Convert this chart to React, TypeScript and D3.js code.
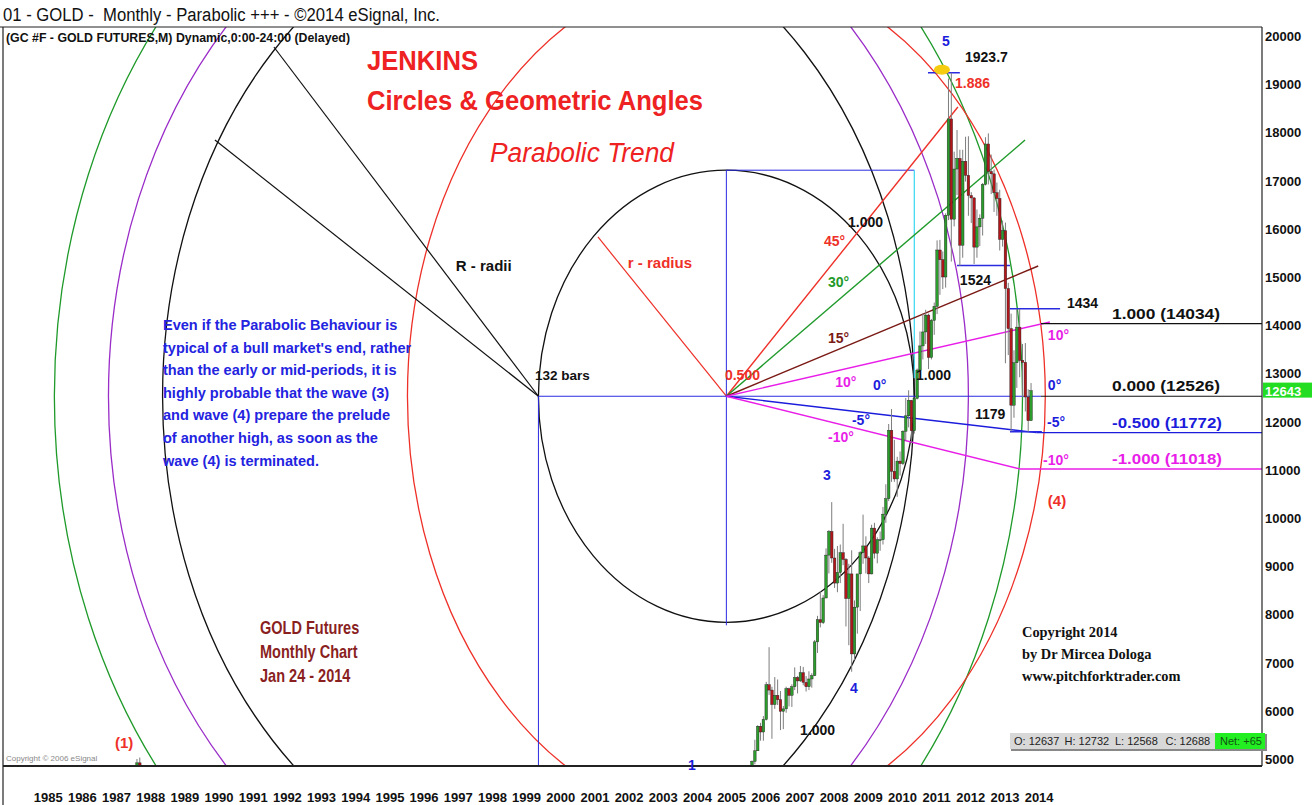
import React from "react";
import * as d3 from "d3";

const W = 1312;
const H = 805;
const PLOT = { left: 4, right: 1262, top: 27, bottom: 766 };
const NARROW = "'Liberation Sans Narrow','Arial Narrow','Liberation Sans',Arial,sans-serif";
const SERIF = "'Liberation Serif','Times New Roman',serif";

// ---- axis ticks ----
const yearTicks = [1985, 1986, 1987, 1988, 1989, 1990, 1991, 1992, 1993, 1994, 1995, 1996, 1997, 1998, 1999,
  2000, 2001, 2002, 2003, 2004, 2005, 2006, 2007, 2008, 2009, 2010, 2011, 2012, 2013, 2014];
const priceTicks = [5000, 6000, 7000, 8000, 9000, 10000, 11000, 12000, 13000, 14000, 15000, 16000, 17000, 18000, 19000, 20000];

// ---- monthly candles: [month, open, high, low, close] (price x10) ----
const candles: [string, number, number, number, number][] = [
  ["1987-11", 4670, 5000, 4640, 4920], ["1987-12", 4920, 5030, 4780, 4840],
  ["2005-09", 4330, 4760, 4320, 4730], ["2005-10", 4730, 4800, 4620, 4700], ["2005-11", 4700, 4970, 4570, 4950], ["2005-12", 4950, 5400, 4890, 5170],
  ["2006-01", 5170, 5700, 5170, 5680], ["2006-02", 5680, 5750, 5380, 5560], ["2006-03", 5560, 5890, 5380, 5820], ["2006-04", 5820, 6600, 5800, 6540],
  ["2006-05", 6540, 7320, 6330, 6430], ["2006-06", 6430, 6500, 5420, 6130], ["2006-07", 6130, 6700, 6040, 6320], ["2006-08", 6320, 6650, 6120, 6230],
  ["2006-09", 6230, 6410, 5600, 5990], ["2006-10", 5990, 6100, 5620, 6040], ["2006-11", 6040, 6500, 5960, 6460], ["2006-12", 6460, 6480, 6090, 6320],
  ["2007-01", 6320, 6550, 6080, 6500], ["2007-02", 6500, 6900, 6430, 6690], ["2007-03", 6690, 6720, 6360, 6620], ["2007-04", 6620, 6930, 6600, 6790],
  ["2007-05", 6790, 6910, 6530, 6590], ["2007-06", 6590, 6720, 6400, 6500], ["2007-07", 6500, 6820, 6430, 6660], ["2007-08", 6660, 6780, 6480, 6730],
  ["2007-09", 6730, 7470, 6720, 7430], ["2007-10", 7430, 7970, 7200, 7890], ["2007-11", 7890, 8480, 7730, 7830], ["2007-12", 7830, 8400, 7800, 8340],
  ["2008-01", 8340, 9370, 8340, 9230], ["2008-02", 9230, 9750, 8850, 9720], ["2008-03", 9720, 10330, 9070, 9170], ["2008-04", 9170, 9360, 8550, 8650],
  ["2008-05", 8650, 9420, 8460, 8870], ["2008-06", 8870, 9450, 8650, 9280], ["2008-07", 9280, 9880, 9020, 9140], ["2008-08", 9140, 9170, 7750, 8330],
  ["2008-09", 8330, 9050, 7360, 8840], ["2008-10", 8840, 9330, 6810, 7180], ["2008-11", 7180, 8290, 7050, 8150], ["2008-12", 8150, 8830, 7600, 8840],
  ["2009-01", 8840, 9310, 8070, 9280], ["2009-02", 9280, 10070, 9050, 9420], ["2009-03", 9420, 9620, 8850, 9170], ["2009-04", 9170, 9210, 8650, 8840],
  ["2009-05", 8840, 9860, 8830, 9790], ["2009-06", 9790, 9900, 9160, 9270], ["2009-07", 9270, 9600, 9060, 9550], ["2009-08", 9550, 9720, 9320, 9550],
  ["2009-09", 9550, 10230, 9450, 10080], ["2009-10", 10080, 10700, 9900, 10400], ["2009-11", 10400, 11950, 10350, 11820], ["2009-12", 11820, 12260, 10750, 10970],
  ["2010-01", 10970, 11620, 10750, 10810], ["2010-02", 10810, 11270, 10440, 11180], ["2010-03", 11180, 11380, 10880, 11130], ["2010-04", 11130, 11820, 11100, 11800],
  ["2010-05", 11800, 12490, 11610, 12120], ["2010-06", 12120, 12650, 11880, 12440], ["2010-07", 12440, 12450, 11560, 11810], ["2010-08", 11810, 12500, 11750, 12480],
  ["2010-09", 12480, 13100, 12460, 13070], ["2010-10", 13070, 13870, 13050, 13570], ["2010-11", 13570, 14240, 13290, 13860], ["2010-12", 13860, 14320, 13610, 14210],
  ["2011-01", 14210, 14240, 13090, 13330], ["2011-02", 13330, 14130, 13290, 14100], ["2011-03", 14100, 14470, 13800, 14390], ["2011-04", 14390, 15760, 14230, 15560],
  ["2011-05", 15560, 15770, 14630, 15360], ["2011-06", 15360, 15530, 14750, 15000], ["2011-07", 15000, 16320, 14780, 16280], ["2011-08", 16280, 19120, 16180, 18280],
  ["2011-09", 18280, 19237, 15320, 16200], ["2011-10", 16200, 17600, 16050, 17240], ["2011-11", 17240, 18050, 16700, 17460], ["2011-12", 17460, 17640, 15230, 15660],
  ["2012-01", 15660, 17640, 15400, 17400], ["2012-02", 17400, 17910, 16980, 17110], ["2012-03", 17110, 17920, 16270, 16690], ["2012-04", 16690, 16760, 16120, 16640],
  ["2012-05", 16640, 16660, 15270, 15620], ["2012-06", 15620, 16400, 15400, 16040], ["2012-07", 16040, 16300, 15640, 16220], ["2012-08", 16220, 16950, 15860, 16920],
  ["2012-09", 16920, 17900, 16900, 17760], ["2012-10", 17760, 17980, 16920, 17190], ["2012-11", 17190, 17540, 16720, 17140], ["2012-12", 17140, 17230, 16350, 16750],
  ["2013-01", 16750, 16960, 16270, 16630], ["2013-02", 16630, 16810, 15550, 15780], ["2013-03", 15780, 16170, 15630, 15960], ["2013-04", 15960, 16130, 13210, 14760],
  ["2013-05", 14760, 14880, 13380, 13930], ["2013-06", 13930, 14240, 11800, 12340], ["2013-07", 12340, 13480, 12080, 13220], ["2013-08", 13220, 14340, 12700, 13960],
  ["2013-09", 13960, 14340, 12920, 13270], ["2013-10", 13270, 13610, 12510, 13230], ["2013-11", 13230, 13630, 12210, 12510], ["2013-12", 12510, 12670, 11790, 12020],
  ["2014-01", 12020, 12800, 12020, 12643],
];

// ---- Jenkins geometry (centre month index, centre price, radius in bars, radius in price) ----
const lowMonth = 175.5;     // Aug 1999 low
const centreMonth = 241.5;  // 66 bars later
const baseLevel = 12526;
const circleNames = ["small", "black", "purple", "green", "red"];
const circleCentres = [centreMonth, lowMonth, lowMonth, lowMonth, centreMonth];
const circleBars = [66, 132, 151, 170, 112];
const circlePrices = [4690, 10100, 11150, 12500, 8880];
const circleColors = ["#111", "#111", "#9a2cc8", "#1f9a2a", "#ee3028"];

// angle lines from the centre: [label, end month, end price, colour]
const angleLines: [string, number, number, string][] = [
  ["45", 322.8, 18527, "#ee3028"],
  ["30", 346.4, 17842, "#1f9a2a"],
  ["15", 351.0, 15228, "#7a1a14"],
  ["10", 355.1, 14066, "#e81ee8"],
  ["-5", 350.4, 11772, "#1c1cdc"],
  ["-10", 344.6, 11018, "#e81ee8"],
];
const rRadiusEnd = [196.4, 15830];
const bigRadiiEnds: [number, number][] = [[82.6, 19772], [61.9, 17842]];

// horizontal fib levels
const levelPrices = [14034, 12526, 11772, 11018];
const levelLabels = ["1.000 (14034)", "0.000 (12526)", "-0.500 (11772)", "-1.000 (11018)"];
const levelStarts = [352, 352, 350.4, 344.6];
const levelColors = ["#111", "#111", "#1c1cdc", "#e81ee8"];
const levelTextWidths = [108, 108, 110, 110];

// marked highs / lows: [price, from month, to month]
const markLines: [number, number, number][] = [
  [19237, 312.3, 323.5], [15240, 322.5, 341.1], [14340, 341.1, 358.7], [11790, 341.1, 352.3],
];

// annotation labels: [text, month, price, colour, size]
const labels: [string, number, number, string, number][] = [
  ["5", 317.2, 19793, "#1c1cdc", 14], ["1923.7", 325.3, 19461, "#111", 14], ["1.886", 321.8, 18921, "#ee3028", 14],
  ["45°", 275.8, 15643, "#ee3028", 14], ["1.000", 284.2, 16037, "#111", 14], ["30°", 277.2, 14793, "#1f9a2a", 14],
  ["15°", 277.2, 13631, "#7a1a14", 14], ["10°", 279.7, 12718, "#e81ee8", 14], ["0°", 293.0, 12656, "#1c1cdc", 14],
  ["-5°", 285.6, 11929, "#1c1cdc", 14], ["-10°", 277.2, 11577, "#e81ee8", 14], ["0.500", 241.0, 12863, "#ee3028", 14],
  ["1.000", 308.1, 12863, "#111", 14], ["3", 275.4, 10788, "#1c1cdc", 14], ["4", 284.9, 6369, "#1c1cdc", 14],
  ["1.000", 267.4, 5498, "#111", 14], ["1", 228.0, 4772, "#1c1cdc", 14], ["(1)", 26.8, 5228, "#ee3028", 15],
  ["(4)", 354.4, 10249, "#ee3028", 15], ["1524", 323.5, 14834, "#111", 14], ["1434", 361.1, 14357, "#111", 14],
  ["1179", 328.8, 12054, "#111", 14], ["10°", 354.4, 13693, "#e81ee8", 14], ["0°", 354.4, 12656, "#1c1cdc", 14],
  ["-5°", 354.1, 11888, "#1c1cdc", 14], ["-10°", 352.7, 11100, "#e81ee8", 14], ["R - radii", 146.5, 15124, "#111", 15],
  ["r - radius", 206.9, 15187, "#ee3028", 15], ["132 bars", 174.3, 12863, "#111", 13.5],
];

const noteLines = [
  "Even if the Parabolic Behaviour is",
  "typical of a bull market's end, rather",
  "than the early or mid-periods, it is",
  "highly probable that the wave (3)",
  "and wave (4) prepare the prelude",
  "of another high, as soon as the",
  "wave (4) is terminated.",
];
const infoLines = ["GOLD Futures", "Monthly Chart", "Jan 24 - 2014"];
const copyLines = ["Copyright 2014", "by Dr Mircea Dologa", "www.pitchforktrader.com"];
const ohlcLabels = ["O: 12637", "H: 12732", "L: 12568", "C: 12688"];
const lastPrice = 12643;

const monthIndex = (s: string) => {
  const [yy, mm] = s.split("-").map(Number);
  return (yy - 1985) * 12 + (mm - 1) + 0.5;
};

const x = d3.scaleLinear().domain([0, 360]).range([38.7, 1063.8]);
const y = d3.scaleLinear().domain([5000, 20000]).range([759, 36]);

export default function App() {
  const cx0 = x(centreMonth);
  const cy0 = y(baseLevel);
  const lowX = x(lowMonth);
  const boxTop = baseLevel + circlePrices[0];
  const boxBottom = baseLevel - circlePrices[0];
  const boxRight = centreMonth + circleBars[0];
  const bw = 2.6;

  return (
    <svg width={W} height={H} style={{ position: "absolute", left: 0, top: 0, background: "#fff" }}
      fontFamily={NARROW}>
      <defs>
        <clipPath id="plotClip">
          <rect x={PLOT.left} y={PLOT.top} width={PLOT.right - PLOT.left} height={PLOT.bottom - PLOT.top} />
        </clipPath>
      </defs>
      <rect x={0} y={0} width={W} height={H} fill="#fff" />

      {/* header */}
      <text x={3} y={21} fontSize={18} fill="#111" textLength={437} lengthAdjust="spacingAndGlyphs"
        style={{ whiteSpace: "pre" }}>
        01 - GOLD -  Monthly - Parabolic +++ - ©2014 eSignal, Inc.
      </text>

      <g clipPath="url(#plotClip)">
        {/* circles */}
        {circleNames.map((n, i) => (
          <ellipse key={n} cx={x(circleCentres[i])} cy={cy0}
            rx={x(circleCentres[i] + circleBars[i]) - x(circleCentres[i])}
            ry={y(baseLevel - circlePrices[i]) - cy0}
            fill="none" stroke={circleColors[i]} strokeWidth={1.3} />
        ))}

        {/* big radii */}
        {bigRadiiEnds.map(([m, p], i) => (
          <line key={"R" + i} x1={lowX} y1={cy0} x2={x(m)} y2={y(p)} stroke="#111" strokeWidth={1.2} />
        ))}
        {/* small radius */}
        <line x1={cx0} y1={cy0} x2={x(rRadiusEnd[0])} y2={y(rRadiusEnd[1])} stroke="#ee3028" strokeWidth={1.2} />

        {/* blue construction */}
        <line x1={lowX} y1={cy0} x2={lowX} y2={PLOT.bottom} stroke="#2a2ae0" strokeWidth={1} />
        <line x1={cx0} y1={y(boxTop)} x2={cx0} y2={y(boxBottom) + 3} stroke="#2a2ae0" strokeWidth={1} />
        <line x1={cx0} y1={y(boxTop)} x2={x(boxRight)} y2={y(boxTop)} stroke="#2a2ae0" strokeWidth={1} />
        <line x1={x(boxRight)} y1={y(boxTop)} x2={x(boxRight)} y2={y(12900)} stroke="#35d8f0" strokeWidth={1.2} />

        {/* base line 0 deg */}
        <line x1={lowX} y1={cy0} x2={x(levelStarts[1])} y2={cy0} stroke="#2a2ae0" strokeWidth={1.2} />

        {/* angle lines */}
        {angleLines.map(([l, m, p, c]) => (
          <line key={"a" + l} x1={cx0} y1={cy0} x2={x(m)} y2={y(p)} stroke={c} strokeWidth={1.4} />
        ))}

        {/* level lines */}
        {levelPrices.map((p, i) => (
          <line key={"lv" + i} x1={x(levelStarts[i])} y1={y(p)} x2={PLOT.right} y2={y(p)}
            stroke={levelColors[i]} strokeWidth={i === 3 ? 1.6 : 1.2} />
        ))}

        {/* marked highs/lows */}
        {markLines.map(([p, a, b], i) => (
          <line key={"mk" + i} x1={x(a)} y1={y(p)} x2={x(b)} y2={y(p)} stroke="#2a2ae0" strokeWidth={1.5} />
        ))}

        {/* candles */}
        {candles.map(([d, o, h, l, c]) => {
          const cx = x(monthIndex(d));
          const up = c >= o;
          const top = y(Math.max(o, c));
          const hh = Math.max(1, Math.abs(y(o) - y(c)));
          return (
            <g key={d}>
              <line x1={cx} x2={cx} y1={y(h)} y2={y(l)} stroke="#7d7d7d" strokeWidth={1} />
              <rect x={cx - bw / 2} y={top} width={bw} height={hh}
                fill={up ? "#2c9c2c" : "#b3161a"} stroke="#1e1e1e" strokeWidth={0.4} />
            </g>
          );
        })}

        {/* peak marker */}
        <ellipse cx={x(317.2)} cy={y(19300)} rx={8} ry={5} fill="#f5cc10" />
      </g>

      {/* plot frame */}
      <line x1={0} y1={PLOT.top} x2={PLOT.right} y2={PLOT.top} stroke="#222" strokeWidth={1.2} />
      <line x1={PLOT.left - 1} y1={PLOT.top} x2={PLOT.left - 1} y2={H} stroke="#222" strokeWidth={1.2} />
      <line x1={PLOT.right} y1={PLOT.top} x2={PLOT.right} y2={PLOT.bottom} stroke="#222" strokeWidth={1.2} />
      <line x1={PLOT.left - 1} y1={PLOT.bottom} x2={PLOT.right} y2={PLOT.bottom} stroke="#222" strokeWidth={2} />

      {/* sub header */}
      <text x={6} y={42} fontSize={13} fontWeight="bold" fill="#111" textLength={344} lengthAdjust="spacingAndGlyphs">
        (GC #F - GOLD FUTURES,M) Dynamic,0:00-24:00 (Delayed)
      </text>

      {/* right axis */}
      {priceTicks.map((p) => (
        <text key={p} x={1265} y={y(p) + 5} fontSize={13} fontWeight="bold" fill="#111">{p}</text>
      ))}
      <rect x={PLOT.right + 1} y={y(lastPrice) - 8} width={50} height={15} fill="#22dd22" />
      <text x={1265} y={y(lastPrice) + 5} fontSize={13} fontWeight="bold" fill="#fff">{lastPrice}</text>

      {/* bottom axis */}
      {yearTicks.map((yr) => (
        <text key={yr} x={x((yr - 1985) * 12) + 9.5} y={802} fontSize={13} fontWeight="bold"
          textAnchor="middle" fill="#111">{yr}</text>
      ))}

      {/* titles */}
      <text x={367} y={70} fontSize={27} fontWeight="bold" fill="#ee2222" textLength={111} lengthAdjust="spacingAndGlyphs">JENKINS</text>
      <text x={367} y={110} fontSize={27} fontWeight="bold" fill="#ee2222" textLength={336} lengthAdjust="spacingAndGlyphs">Circles &amp; Geometric Angles</text>
      <text x={490} y={162} fontSize={27} fontStyle="italic" fill="#ee2222" textLength={184} lengthAdjust="spacingAndGlyphs">Parabolic Trend</text>

      {/* note */}
      <g transform="translate(163,0) scale(0.97,1) translate(-163,0)">
        {noteLines.map((t, i) => (
          <text key={"n" + i} x={163} y={330 + i * 22.6} fontSize={15} fontWeight="bold" fill="#2323e0">{t}</text>
        ))}
      </g>

      {/* gold info */}
      <g transform="translate(260,0) scale(0.83,1) translate(-260,0)">
        {infoLines.map((t, i) => (
          <text key={"g" + i} x={260} y={634 + i * 24} fontSize={17.5} fontWeight="bold" fill="#8a1f1f">{t}</text>
        ))}
      </g>

      {/* copyright */}
      {copyLines.map((t, i) => (
        <text key={"c" + i} x={1022} y={637 + i * 22} fontSize={14.4} fontWeight="bold" fontFamily={SERIF} fill="#111">{t}</text>
      ))}
      <text x={6} y={761} fontSize={8} fill="#888">Copyright © 2006 eSignal</text>

      {/* annotations */}
      {labels.map(([t, m, p, c, s], i) => (
        <text key={"lb" + i} x={x(m)} y={y(p)} fontSize={s} fontWeight="bold" fill={c}>{t}</text>
      ))}
      {levelPrices.map((p, i) => (
        <text key={"lt" + i} x={1112} y={y(p) - 5} fontSize={15.5} fontWeight="bold" fill={levelColors[i]}
          textLength={levelTextWidths[i]} lengthAdjust="spacingAndGlyphs">{levelLabels[i]}</text>
      ))}

      {/* OHLC box */}
      <rect x={1011} y={734} width={256} height={17} fill="#888" />
      <rect x={1010} y={733} width={255} height={16} fill="#d8d8d8" />
      {ohlcLabels.map((t, i) => (
        <text key={"o" + i} x={1014 + i * 50.5} y={745} fontSize={11} fill="#222">{t}</text>
      ))}
      <rect x={1215} y={733} width={50} height={16} fill="#22ee22" />
      <text x={1220} y={745} fontSize={11} fill="#115511">Net: +65</text>
    </svg>
  );
}
